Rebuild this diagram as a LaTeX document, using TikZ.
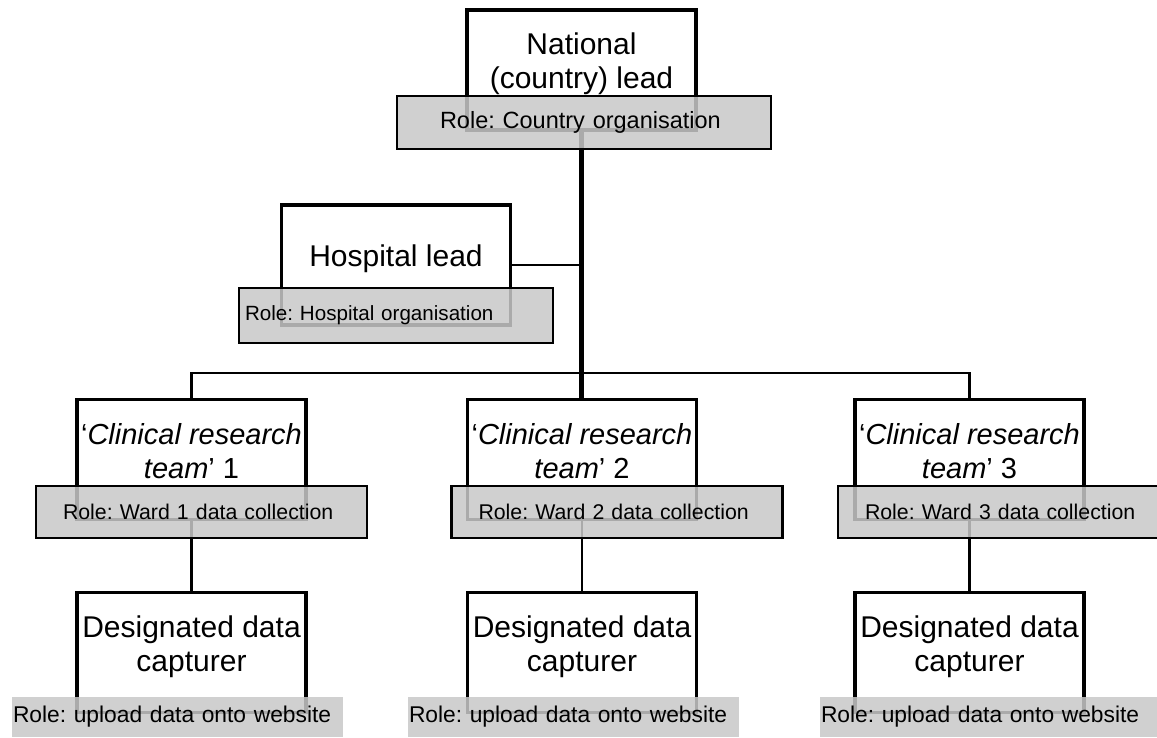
\documentclass[tikz,border=0pt]{standalone}
\usepackage{fontspec}
\setmainfont{Liberation Sans}
\usepackage{xcolor}
\definecolor{rolegray}{RGB}{200, 200, 200}
\usepackage{tikz}
\frenchspacing

\begin{document}
\begin{tikzpicture}[x=1pt, y=-1pt,
    leadbox/.style={draw, line width=3.8pt, fill=white, minimum width=229pt,
      inner sep=0pt, align=center, font=\fontsize{30}{34.5}\selectfont,
      text height=79pt, text depth=41pt},
    crtbox/.style={leadbox, font=\fontsize{29}{34.5}\selectfont},
    rolebox/.style={draw, line width=2.5pt, fill=rolegray, fill opacity=0.85,
      text opacity=1, inner ysep=0pt, align=left},
    wardrole/.style={rolebox, minimum height=52pt, text width=277pt,
      inner xsep=27pt, font=\fontsize{21.3}{24}\selectfont},
    uprole/.style={rolebox, draw=none, minimum height=40pt, text width=329pt,
      inner xsep=1pt, font=\fontsize{22.8}{26}\selectfont},
    link/.style={line width=2.6pt},
    trunk/.style={line width=5pt}]
      \fill[white] (0,0) rectangle (1157,738);
      \useasboundingbox (0,0) rectangle (1157,738);

      % lead boxes
      \node[leadbox] (nat) at (581.5,70) {National\\(country) lead};
      \node[leadbox, text height=61pt, text depth=59pt] (hosp) at (396,265)
            {Hospital lead};
      \node[crtbox] (crt1) at (191.5,459.5)
            {‘\textit{Clinical research}\\\textit{team}’ 1};
      \node[crtbox] (crt2) at (582,459.5)
            {‘\textit{Clinical research}\\\textit{team}’ 2};
      \node[crtbox] (crt3) at (969.5,459.5)
            {‘\textit{Clinical research}\\\textit{team}’ 3};
      \node[leadbox] (cap1) at (191.5,652.5) {Designated data\\capturer};
      \node[leadbox] (cap2) at (582,652.5) {Designated data\\capturer};
      \node[leadbox] (cap3) at (969.5,652.5) {Designated data\\capturer};

      % connectors
      \coordinate (fork) at (581.5,373);
      \draw[trunk] (nat.south) -- (nat.south |- crt2.north);
      \draw[link] (crt1.north) |- (fork) -| (crt3.north);
      \draw[link] (hosp.east) -- (hosp.east -| fork);
      \foreach \i in {1,2,3}
            \draw[link] (crt\i.south) -- (cap\i.north);

      % role boxes
      \node[rolebox, minimum height=53pt, text width=288pt, inner xsep=43pt,
            font=\fontsize{23.5}{27}\selectfont] (natrole) at (584,122.5)
            {Role: Country organisation};
      \node[rolebox, minimum height=55pt, text width=302pt, inner xsep=6pt,
            font=\fontsize{20.6}{24}\selectfont] (hosprole) at (396,315.5)
            {Role: Hospital organisation};
      \node[wardrole] (ward1) at (201.5,512) {Role: Ward 1 data collection};
      \node[wardrole] (ward2) at (617,512) {Role: Ward 2 data collection};
      \node[wardrole] (ward3) at (1003.5,512) {Role: Ward 3 data collection};
      \node[uprole] (up1) at (177.5,717) {Role: upload data onto website};
      \node[uprole] (up2) at (573.5,717) {Role: upload data onto website};
      \node[uprole, text width=338pt] (up3) at (990,717)
            {Role: upload data onto website};
\end{tikzpicture}
\end{document}
